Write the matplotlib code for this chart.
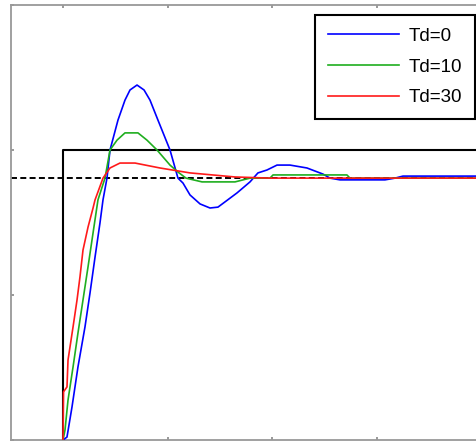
import matplotlib
matplotlib.use("Agg")
import matplotlib.pyplot as plt

plt.rcParams['font.family'] = ['Liberation Sans', 'DejaVu Sans']
plt.rcParams['lines.scale_dashes'] = False

# Step responses (time, output)
t_td0 = [0, 0.38, 0.86, 1.43, 2.10, 2.58, 3.06, 3.53, 3.82, 4.20, 4.49, 5.25, 5.92, 6.40, 7.07,
         7.74, 8.31, 9.07, 10.22, 10.98, 11.46, 12.13, 13.09, 14.04, 14.80, 15.47, 16.62, 17.86,
         18.62, 19.48, 20.44, 21.68, 23.30, 24.83, 25.50, 26.46, 30.75, 31.71, 32.47, 45]
y_td0 = [0, 0.010, 0.114, 0.252, 0.390, 0.507, 0.631, 0.748, 0.828, 0.903, 1.000, 1.103, 1.172, 1.207, 1.224,
         1.207, 1.172, 1.103, 1.000, 0.903, 0.886, 0.845, 0.814, 0.800, 0.803, 0.821, 0.852, 0.890,
         0.921, 0.931, 0.948, 0.948, 0.938, 0.917, 0.903, 0.897, 0.897, 0.903, 0.910, 0.910]

t_td10 = [0, 0.19, 0.48, 0.96, 1.43, 1.91, 2.39, 2.87, 3.34, 4.01, 4.49, 5.16, 5.92, 7.16,
          8.02, 8.98, 10.22, 10.98, 11.75, 13.28, 16.43, 17.86, 19.77, 20.06, 27.12, 27.41, 45]
y_td10 = [0, 0.034, 0.138, 0.252, 0.369, 0.483, 0.597, 0.714, 0.828, 0.903, 1.000, 1.034, 1.059, 1.059,
          1.034, 1.000, 0.948, 0.924, 0.903, 0.890, 0.890, 0.903, 0.903, 0.914, 0.914, 0.903, 0.903]

t_td30 = [0, 0.05, 0.38, 0.48, 0.96, 1.34, 1.62, 1.91, 2.39, 2.87, 3.06, 3.82, 4.49, 5.44,
          6.88, 9.26, 12.13, 16.43, 19.77, 45]
y_td30 = [0, 0.166, 0.183, 0.276, 0.390, 0.483, 0.562, 0.655, 0.734, 0.800, 0.828, 0.903, 0.938, 0.955,
          0.955, 0.938, 0.921, 0.907, 0.903, 0.903]

labels = ['Td=0', 'Td=10', 'Td=30']
colors = ['#0000ff', '#1fae1f', '#ff1a1a']

step_t = [0, 0, 45]
step_y = [0, 1.0, 1.0]
setpoint = 0.903

xticks = [0, 10, 20, 30, 40]
yticks = [0, 0.5, 1.0, 1.5]

W, H = 476, 442
fig = plt.figure(figsize=(W / 100, H / 100), dpi=100)
px_per_t = 10.47
x0_px = 63 - 5 * px_per_t
right_px = 63 + 45 * px_per_t
ax = fig.add_axes([x0_px / W, (H - 440) / H, (right_px - x0_px) / W, 435 / H])

ax.plot(step_t, step_y, color='black', lw=1.5, zorder=2)
ax.axhline(setpoint, color='black', lw=1.4, dashes=(4.3, 2.4), zorder=1)

series = [(t_td0, y_td0), (t_td10, y_td10), (t_td30, y_td30)]
for (t, y), c, lab in zip(series, colors, labels):
    ax.plot(t, y, color=c, lw=1.2, label=lab, zorder=3)

ax.set_xlim(-5, 45)
ax.set_ylim(0, 1.5)
ax.set_xticks(xticks)
ax.set_yticks(yticks)
ax.tick_params(direction='in', length=2.5, width=1.2, color='#888888',
               top=True, right=True, labelbottom=False, labelleft=False)
for s in ax.spines.values():
    s.set_color('#999999')
    s.set_linewidth(1.3)

leg = ax.legend(loc='upper right', bbox_to_anchor=(475 / W, 1 - 15 / H),
                bbox_transform=fig.transFigure, borderaxespad=0,
                fancybox=False, edgecolor='black', framealpha=1,
                fontsize=13.5, handlelength=3.8, handletextpad=0.5,
                labelspacing=0.72, borderpad=0.68)
leg.get_frame().set_linewidth(1.5)

fig.savefig('out.png', dpi=100)
